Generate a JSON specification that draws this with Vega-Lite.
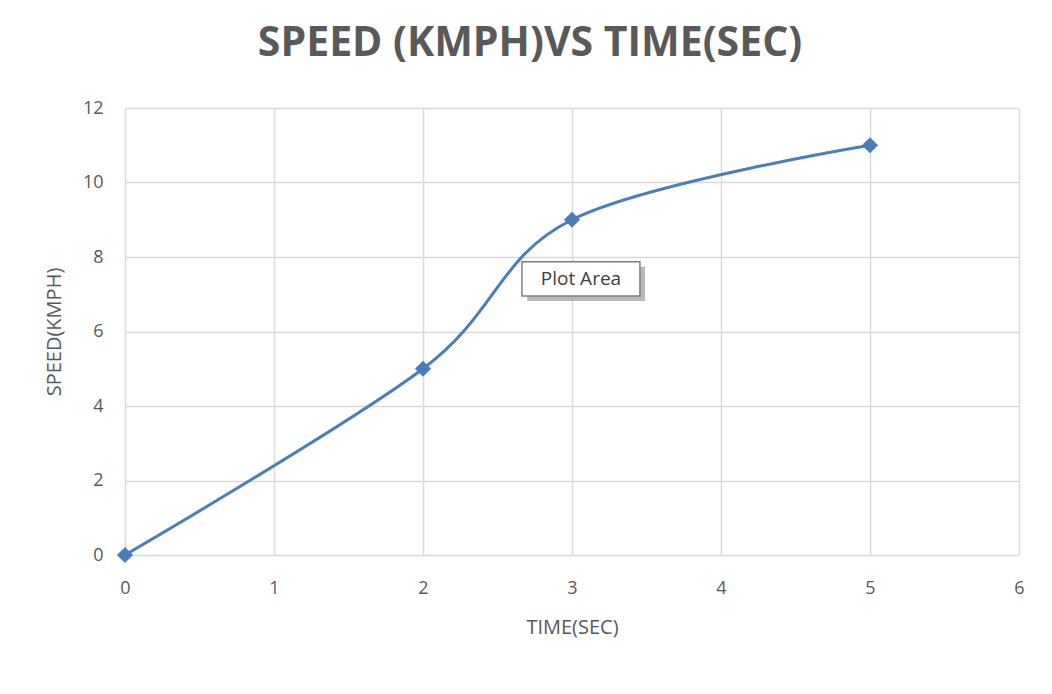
{
  "$schema": "https://vega.github.io/schema/vega-lite/v6.json",
  "width": 894,
  "height": 447,
  "autosize": {"type": "none"},
  "padding": {"left": 125, "top": 108, "right": 33, "bottom": 139},
  "background": "white",
  "title": {
    "text": "SPEED (KMPH)VS TIME(SEC)",
    "font": "Open Sans",
    "fontSize": 41,
    "fontWeight": "bold",
    "color": "#595959",
    "anchor": "middle",
    "offset": 34,
    "dx": -42
  },
  "config": {
    "view": {"stroke": null},
    "axis": {
      "gridColor": "#d9d9d9",
      "gridWidth": 1.5,
      "labelFont": "Open Sans",
      "labelFontSize": 18,
      "labelColor": "#595959",
      "labelFlush": false,
      "titleFont": "Open Sans",
      "titleFontSize": 20,
      "titleFontWeight": "normal",
      "titleColor": "#595959",
      "ticks": false,
      "domain": false
    }
  },
  "datasets": {
    "pts": [
      {"time": 0, "speed": 0},
      {"time": 2, "speed": 5},
      {"time": 3, "speed": 9},
      {"time": 5, "speed": 11}
    ],
    "note": [
      {"x": 2.664, "x2": 3.456, "y": 7.87, "y2": 6.95, "sx": 2.70, "sx2": 3.49, "sy": 7.74, "sy2": 6.82, "label": "Plot Area", "tx": 3.06, "ty": 7.41}
    ]
  },
  "layer": [
    {
      "data": {"name": "pts"},
      "mark": {"type": "line", "interpolate": "cardinal", "color": "#4a7ebb", "strokeWidth": 3},
      "encoding": {
        "x": {"field": "time", "type": "quantitative", "scale": {"domain": [0, 6], "nice": false}, "axis": {"title": "TIME(SEC)", "tickCount": 6, "labelPadding": 24, "titlePadding": 20}},
        "y": {"field": "speed", "type": "quantitative", "scale": {"domain": [0, 12], "nice": false}, "axis": {"title": "SPEED(KMPH)", "values": [0, 2, 4, 6, 8, 10, 12], "labelPadding": 22, "titlePadding": 18}}
      }
    },
    {
      "data": {"name": "pts"},
      "mark": {"type": "point", "shape": "diamond", "filled": true, "color": "#4a7ebb", "size": 260, "opacity": 1},
      "encoding": {
        "x": {"field": "time", "type": "quantitative"},
        "y": {"field": "speed", "type": "quantitative"}
      }
    },
    {
      "data": {"name": "note"},
      "mark": {"type": "rect", "fill": "#a6a6a6", "opacity": 0.8},
      "encoding": {
        "x": {"field": "sx", "type": "quantitative"},
        "x2": {"field": "sx2"},
        "y": {"field": "sy", "type": "quantitative"},
        "y2": {"field": "sy2"}
      }
    },
    {
      "data": {"name": "note"},
      "mark": {"type": "rect", "fill": "white", "stroke": "#7f7f7f", "strokeWidth": 1.5},
      "encoding": {
        "x": {"field": "x", "type": "quantitative"},
        "x2": {"field": "x2"},
        "y": {"field": "y", "type": "quantitative"},
        "y2": {"field": "y2"}
      }
    },
    {
      "data": {"name": "note"},
      "mark": {"type": "text", "font": "Open Sans", "fontSize": 19, "color": "#404040", "align": "center", "baseline": "middle"},
      "encoding": {
        "x": {"field": "tx", "type": "quantitative"},
        "y": {"field": "ty", "type": "quantitative"},
        "text": {"field": "label"}
      }
    }
  ]
}
